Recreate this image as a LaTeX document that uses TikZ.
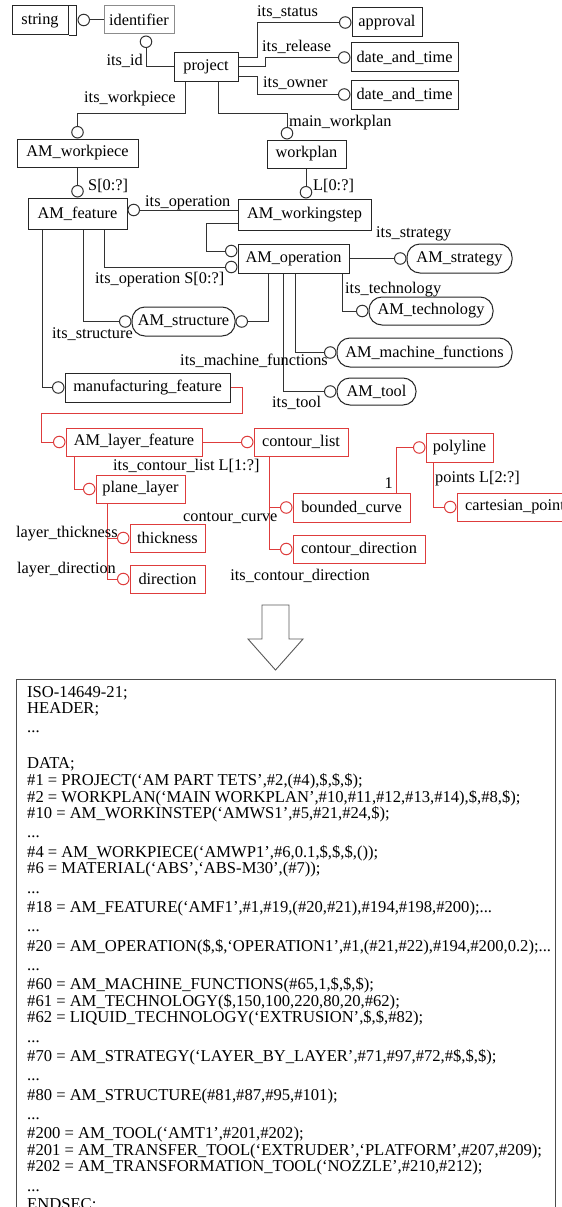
\documentclass[tikz,border=0pt]{standalone}
\usepackage{fontspec}
\setmainfont{Liberation Serif}
\usetikzlibrary{calc}
\newcommand\dfont{\fontsize{16.3}{16.6}\selectfont}
\newcommand\cfont{\fontsize{16.6}{16.6}\selectfont}
\definecolor{lred}{RGB}{222,60,60}
\definecolor{lk}{RGB}{50,50,50}
\tikzset{
  ent/.style={draw=black!85, line width=1pt, inner sep=0pt, font=\dfont},
  pill/.style={ent, rounded corners=13pt},
  rent/.style={ent, draw=lred},
  ring/.style={circle, draw=lk, line width=1pt, inner sep=0pt, minimum size=11.5pt, fill=white},
  rring/.style={ring, draw=lred},
  lnk/.style={draw=lk, line width=1pt},
  rlnk/.style={draw=lred, line width=1pt},
  lbl/.style={inner sep=0pt, anchor=base west, font=\dfont},
  lble/.style={lbl, anchor=base east},
  code/.style={inner sep=0pt, anchor=base west, font=\cfont},
}
\begin{document}
\begin{tikzpicture}[x=1pt,y=-1pt]
\useasboundingbox (0,0) rectangle (562,1207);
\clip (0,0) rectangle (562,1207);
\fill[white] (0,0) rectangle (562,1207);

% ---------- entities ----------
\node[ent, minimum width=56pt, minimum height=29pt] (string) at (40,20.5) {string};
\draw[ent] (string.north east) -- ++(8,0) |- (string.south east);
\node[ent, draw=black!45, minimum width=70pt, minimum height=28pt] (identifier) at (139,20) {identifier};
\node[ent, minimum width=64pt, minimum height=28pt] (project) at (206,67) {project};
\node[ent, minimum width=70pt, minimum height=29pt] (approval) at (387,22.5) {approval};
\node[ent, minimum width=107pt, minimum height=29pt] (dt1) at (404.5,57.5) {date\_and\_time};
\node[ent, minimum width=107pt, minimum height=29pt] (dt2) at (404.5,94.5) {date\_and\_time};
\node[ent, minimum width=121pt, minimum height=28pt] (workpiece) at (77.5,153) {AM\_workpiece};
\node[ent, minimum width=79pt, minimum height=28pt] (workplan) at (306.5,154) {workplan};
\node[ent, minimum width=99pt, minimum height=31pt] (feature) at (77.5,213.5) {AM\_feature};
\node[ent, minimum width=133pt, minimum height=31pt] (workingstep) at (304.5,214.5) {AM\_workingstep};
\node[ent, minimum width=111pt, minimum height=29pt] (operation) at (293.5,258.5) {AM\_operation};
\node[pill, minimum width=105pt, minimum height=29pt] (strategy) at (459.5,258.5) {AM\_strategy};
\node[pill, minimum width=124pt, minimum height=28pt] (technology) at (431,311) {AM\_technology};
\node[pill, minimum width=175pt, minimum height=29pt] (machfun) at (424.5,352.5) {AM\_machine\_functions};
\node[pill, minimum width=79pt, minimum height=27pt] (tool) at (376.5,391.5) {AM\_tool};
\node[pill, minimum width=103pt, minimum height=29pt] (structure) at (183.5,321.5) {AM\_structure};
\node[ent, minimum width=165pt, minimum height=29pt] (mfeature) at (147.5,387.5) {manufacturing\_feature};

\node[rent, minimum width=136pt, minimum height=28pt] (layerfeat) at (134,442) {AM\_layer\_feature};
\node[rent, minimum width=94pt, minimum height=28pt] (contlist) at (301,442) {contour\_list};
\node[rent, minimum width=89pt, minimum height=28pt] (plane) at (140.5,489) {plane\_layer};
\node[rent, minimum width=75pt, minimum height=28pt] (thick) at (167.5,538) {thickness};
\node[rent, minimum width=75pt, minimum height=28pt] (dir) at (167.5,579) {direction};
\node[rent, minimum width=117pt, minimum height=29pt] (bcurve) at (351.5,507.5) {bounded\_curve};
\node[rent, minimum width=132pt, minimum height=28pt] (cdir) at (359,549) {contour\_direction};
\node[rent, minimum width=67pt, minimum height=29pt] (polyline) at (459.5,447.5) {polyline};
\node[rent, minimum width=116pt, minimum height=28pt] (cpoint) at (515,507) {cartesian\_point};

% ---------- rings ----------
\node[ring, anchor=west] (c1) at ($(string.east)+(9,-0.5)$) {};
\node[ring, anchor=north] (c2) at ($(identifier.south)+(7,1)$) {};
\node[ring, anchor=east] (capp) at (approval.west) {};
\node[ring, anchor=east] (cd1) at (dt1.west) {};
\node[ring, anchor=east] (cd2) at (dt2.west) {};
\node[ring, anchor=south] (cwp) at (workpiece.north) {};
\node[ring, anchor=south] (cwpl) at ($(workplan.north)+(-19.5,0)$) {};
\node[ring, anchor=south] (cfeat) at (feature.north) {};
\node[ring, anchor=south] (cws) at ($(workingstep.north)+(1.5,0)$) {};
\node[ring, anchor=west] (cop1) at ($(feature.east)+(0,-3.5)$) {};
\node[ring, anchor=east] (copa) at ($(operation.west)+(0,-7.5)$) {};
\node[ring, anchor=east] (copb) at ($(operation.west)+(0,8.5)$) {};
\node[ring, anchor=east] (cstr) at (strategy.west) {};
\node[ring, anchor=east] (ctech) at (technology.west) {};
\node[ring, anchor=east] (cmf) at (machfun.west) {};
\node[ring, anchor=east] (ctool) at (tool.west) {};
\node[ring, anchor=east] (csl) at (structure.west) {};
\node[ring, anchor=west] (csr) at (structure.east) {};
\node[ring, anchor=east] (cmfeat) at (mfeature.west) {};
\node[rring, anchor=east] (clf) at (layerfeat.west) {};
\node[rring, anchor=east] (ccl) at (contlist.west) {};
\node[rring, anchor=east] (cpl) at (plane.west) {};
\node[rring, anchor=east] (cth) at (thick.west) {};
\node[rring, anchor=east] (cdr) at (dir.west) {};
\node[rring, anchor=east] (cbc) at (bcurve.west) {};
\node[rring, anchor=east] (ccd) at (cdir.west) {};
\node[rring, anchor=east] (cpoly) at (polyline.west) {};
\node[rring, anchor=east] (ccp) at (cpoint.west) {};

% ---------- connectors ----------
\draw[lnk] (c1) -- (identifier.west |- c1);
\draw[lnk] (c2.south) |- (project.west);
\draw[lnk] ($(project.east)+(0,-9)$) -- ++(19,0) |- (capp);
\draw[lnk] (project.east) -- ++(27,0) |- (cd1);
\draw[lnk] ($(project.east)+(0,9)$) -- ++(19,0) |- (cd2);
\draw[lnk] ($(project.south)+(-21,0)$) -- ++(0,32) -| (cwp);
\draw[lnk] ($(project.south)+(12,0)$) -- ++(0,32) -| (cwpl);
\draw[lnk] (workpiece.south -| cfeat) -- (cfeat);
\draw[lnk] (workplan.south -| cws) -- (cws);
\draw[lnk] (cop1) -- (workingstep.west |- cop1);
\draw[lnk] ($(workingstep.west)+(0,8.5)$) -- ++(-31,0) |- (copa);
\draw[lnk] ($(feature.south)+(26.5,0)$) |- (copb);
\draw[lnk] ($(feature.south)+(5.5,0)$) |- (csl);
\draw[lnk] ($(feature.south)+(-35.5,0)$) |- (cmfeat);
\draw[lnk] ($(operation.south)+(-25.5,0)$) |- (csr);
\draw[lnk] (operation.east) -- (cstr);
\draw[lnk] ($(operation.south)+(48.5,0)$) |- (ctech);
\draw[lnk] ($(operation.south)+(1.5,0)$) |- (cmf);
\draw[lnk] ($(operation.south)+(-10.5,0)$) |- (ctool);

\draw[rlnk] (mfeature.east) -- ++(12,0) -- ++(0,25.5) -- ++(-201,0) |- (clf);
\draw[rlnk] (layerfeat.east) -- (ccl);
\draw[rlnk] ($(layerfeat.south)+(-60,0)$) |- (cpl);
\draw[rlnk] ($(plane.south)+(-33.5,0)$) |- (cdr);
\draw[rlnk] ($(plane.south)+(-33.5,0)$) |- (cth);
\draw[rlnk] ($(contlist.south)+(-32,0)$) |- (ccd);
\draw[rlnk] ($(contlist.south)+(-32,0)$) |- (cbc);
\draw[rlnk] ($(bcurve.north)+(44.5,0)$) |- (cpoly);
\draw[rlnk] ($(polyline.south)+(-26.5,0)$) |- (ccp);

% ---------- labels ----------
\node[lbl] (l_status) at (257,17) {its\_status};
\node[lbl] (l_release) at (262,52) {its\_release};
\node[lbl] (l_owner) at (263,88) {its\_owner};
\node[lble] (l_id) at (143,66) {its\_id};
\node[lbl] (l_wp) at (84,102) {its\_workpiece};
\node[lbl] (l_mwp) at (289,126) {main\_workplan};
\node[lbl] (l_s0) at (88,190) {S[0:?]};
\node[lbl] (l_l0) at (313,190) {L[0:?]};
\node[lbl] (l_op) at (145,206) {its\_operation};
\node[lbl] (l_strat) at (376,237) {its\_strategy};
\node[lbl] (l_ops) at (95,283) {its\_operation S[0:?]};
\node[lbl] (l_struct) at (52,338) {its\_structure};
\node[lbl] (l_tech) at (345,293) {its\_technology};
\node[lble] (l_mf) at (328,365) {its\_machine\_functions};
\node[lbl] (l_tool) at (272,407) {its\_tool};
\node[lbl] (l_cl) at (113,470) {its\_contour\_list L[1:?]};
\node[lbl] (l_cc) at (183,521) {contour\_curve};
\node[lbl] (l_lt) at (16,537) {layer\_thickness};
\node[lbl] (l_ld) at (17,573) {layer\_direction};
\node[lble] (l_cd) at (370,580) {its\_contour\_direction};
\node[lble] (l_one) at (393,488) {1};
\node[lbl] (l_pts) at (435,482) {points L[2:?]};

% ---------- arrow ----------
\draw[draw=black!65, line width=0.9pt, line join=miter] (262,605) -- (289,605) -- (289,639) -- (303,639) -- (275.5,670) -- (248,639) -- (262,639) -- cycle;

% ---------- code ----------
\node[draw=black!70, line width=1pt, inner sep=0pt, anchor=north west, minimum width=539pt, minimum height=560pt] (codebox) at (16,679) {};
\node[code] (k1) at (27,697.0) {ISO-14649-21;};
\node[code] (k2) at (27,713.6) {HEADER;};
\node[code] (k3) at (27,732.9) {...};
\node[code] (k4) at (27,768.8) {DATA;};
\node[code] (k5) at (27,785.4) {\#1 = PROJECT(‘AM PART TETS’,\#2,(\#4),\$,\$,\$);};
\node[code] (k6) at (27,802.0) {\#2 = WORKPLAN(‘MAIN WORKPLAN’,\#10,\#11,\#12,\#13,\#14),\$,\#8,\$);};
\node[code] (k7) at (27,818.6) {\#10 = AM\_WORKINSTEP(‘AMWS1’,\#5,\#21,\#24,\$);};
\node[code] (k8) at (27,837.9) {...};
\node[code] (k9) at (27,857.2) {\#4 = AM\_WORKPIECE(‘AMWP1’,\#6,0.1,\$,\$,\$,());};
\node[code] (k10) at (27,873.8) {\#6 = MATERIAL(‘ABS’,‘ABS-M30’,(\#7));};
\node[code] (k11) at (27,893.1) {...};
\node[code] (k12) at (27,912.4) {\#18 = AM\_FEATURE(‘AMF1’,\#1,\#19,(\#20,\#21),\#194,\#198,\#200);...};
\node[code] (k13) at (27,931.7) {...};
\node[code] (k14) at (27,951.0) {\#20 = AM\_OPERATION(\$,\$,‘OPERATION1’,\#1,(\#21,\#22),\#194,\#200,0.2);...};
\node[code] (k15) at (27,970.3) {...};
\node[code] (k16) at (27,989.6) {\#60 = AM\_MACHINE\_FUNCTIONS(\#65,1,\$,\$,\$);};
\node[code] (k17) at (27,1006.2) {\#61 = AM\_TECHNOLOGY(\$,150,100,220,80,20,\#62);};
\node[code] (k18) at (27,1022.8) {\#62 = LIQUID\_TECHNOLOGY(‘EXTRUSION’,\$,\$,\#82);};
\node[code] (k19) at (27,1042.1) {...};
\node[code] (k20) at (27,1061.4) {\#70 = AM\_STRATEGY(‘LAYER\_BY\_LAYER’,\#71,\#97,\#72,\#\$,\$,\$);};
\node[code] (k21) at (27,1080.7) {...};
\node[code] (k22) at (27,1100.0) {\#80 = AM\_STRUCTURE(\#81,\#87,\#95,\#101);};
\node[code] (k23) at (27,1119.3) {...};
\node[code] (k24) at (27,1138.6) {\#200 = AM\_TOOL(‘AMT1’,\#201,\#202);};
\node[code] (k25) at (27,1155.2) {\#201 = AM\_TRANSFER\_TOOL(‘EXTRUDER’,‘PLATFORM’,\#207,\#209);};
\node[code] (k26) at (27,1171.8) {\#202 = AM\_TRANSFORMATION\_TOOL(‘NOZZLE’,\#210,\#212);};
\node[code] (k27) at (27,1191.1) {...};
\node[code] (k28) at (27,1209.0) {ENDSEC;};
\end{tikzpicture}
\end{document}
